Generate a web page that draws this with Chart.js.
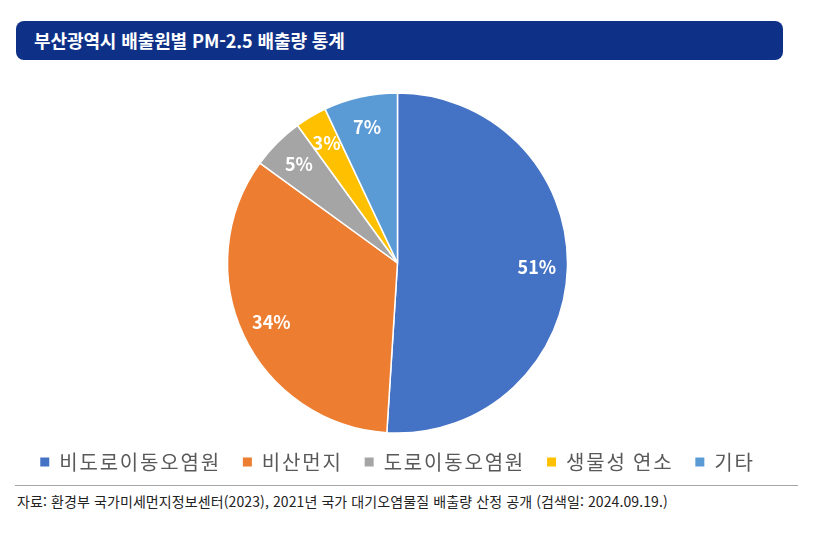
<!DOCTYPE html>
<html lang="ko">
<head>
<meta charset="utf-8">
<script src="https://cdn.jsdelivr.net/npm/chart.js@4.4.1/dist/chart.umd.min.js"></script>
<style>
  html, body { margin: 0; padding: 0; background: #fff; }
  body { width: 814px; height: 533px; position: relative; overflow: hidden; font-family: "Noto Sans CJK KR", "Noto Sans", sans-serif; }
  .title-bar {
    position: absolute; left: 16px; top: 21px; width: 767px; height: 39px;
    background: #0e3187; border-radius: 8px;
  }
  .title-bar span {
    position: absolute; left: 18px; top: 0; line-height: 39px;
    color: #fff; font-weight: 700; font-size: 18px; letter-spacing: -0.1px;
  }
  .chart-box { position: absolute; left: 0; top: 80px; width: 814px; height: 402px; }
  .rule { position: absolute; left: 15px; top: 485px; width: 783px; height: 0; border-top: 1px solid #a6a6a6; }
  .source {
    position: absolute; left: 17px; top: 491px; line-height: 20px;
    font-size: 14px; color: #222; letter-spacing: 0.1px;
  }
</style>
</head>
<body>
<div class="title-bar"><span>부산광역시 배출원별 PM-2.5 배출량 통계</span></div>
<div class="chart-box"><canvas id="pmChart"></canvas></div>
<div class="rule"></div>
<div class="source">자료: 환경부 국가미세먼지정보센터(2023), 2021년 국가 대기오염물질 배출량 산정 공개 (검색일: 2024.09.19.)</div>
<script>
'use strict';

const categories = ['비도로이동오염원', '비산먼지', '도로이동오염원', '생물성 연소', '기타'];
const shares = [51, 34, 5, 3, 7];
const sliceColors = ['#4472c4', '#ed7d31', '#a5a5a5', '#ffc000', '#5b9bd5'];

// wider letter spacing for the legend text
const legendSpacing = {
    id: 'legendSpacing',
    beforeLayout(chart) { chart.ctx.letterSpacing = '1.8px'; },
    beforeDraw(chart) { chart.ctx.letterSpacing = '1.8px'; }
};

// percentage labels inside each slice
const sliceLabels = {
    id: 'sliceLabels',
    afterDatasetsDraw(chart) {
        const ctx = chart.ctx;
        const meta = chart.getDatasetMeta(0);
        ctx.save();
        ctx.letterSpacing = '0px';
        ctx.font = 'bold 18px "Noto Sans CJK KR", "Noto Sans", sans-serif';
        ctx.fillStyle = '#ffffff';
        ctx.textAlign = 'center';
        ctx.textBaseline = 'middle';
        meta.data.forEach(function (arc, i) {
            const mid = (arc.startAngle + arc.endAngle) / 2;
            const r = arc.outerRadius * 0.82;
            ctx.fillText(shares[i] + '%', arc.x + Math.cos(mid) * r, arc.y + Math.sin(mid) * r);
        });
        ctx.restore();
    }
};

const pieLegendLabels = Chart.controllers.pie.overrides.plugins.legend.labels.generateLabels;

new Chart('pmChart', {
    type: 'pie',
    data: {
        labels: categories,
        datasets: [{
            data: shares,
            backgroundColor: sliceColors,
            borderColor: '#ffffff',
            borderWidth: 1.5,
            clip: false
        }]
    },
    options: {
        responsive: true,
        maintainAspectRatio: false,
        animation: false,
        radius: 170,
        layout: { padding: { top: 16, right: 19, left: 0, bottom: 0 } },
        plugins: {
            tooltip: { enabled: false },
            legend: {
                position: 'bottom',
                labels: {
                    boxWidth: 9,
                    boxHeight: 9,
                    padding: 22,
                    color: '#595959',
                    font: { family: '"Noto Sans CJK KR", "Noto Sans", sans-serif', size: 20 },
                    generateLabels: function (chart) {
                        return pieLegendLabels(chart).map(function (item) {
                            item.lineWidth = 0;
                            item.strokeStyle = item.fillStyle;
                            return item;
                        });
                    }
                }
            }
        }
    },
    plugins: [legendSpacing, sliceLabels]
});
</script>
</body>
</html>
